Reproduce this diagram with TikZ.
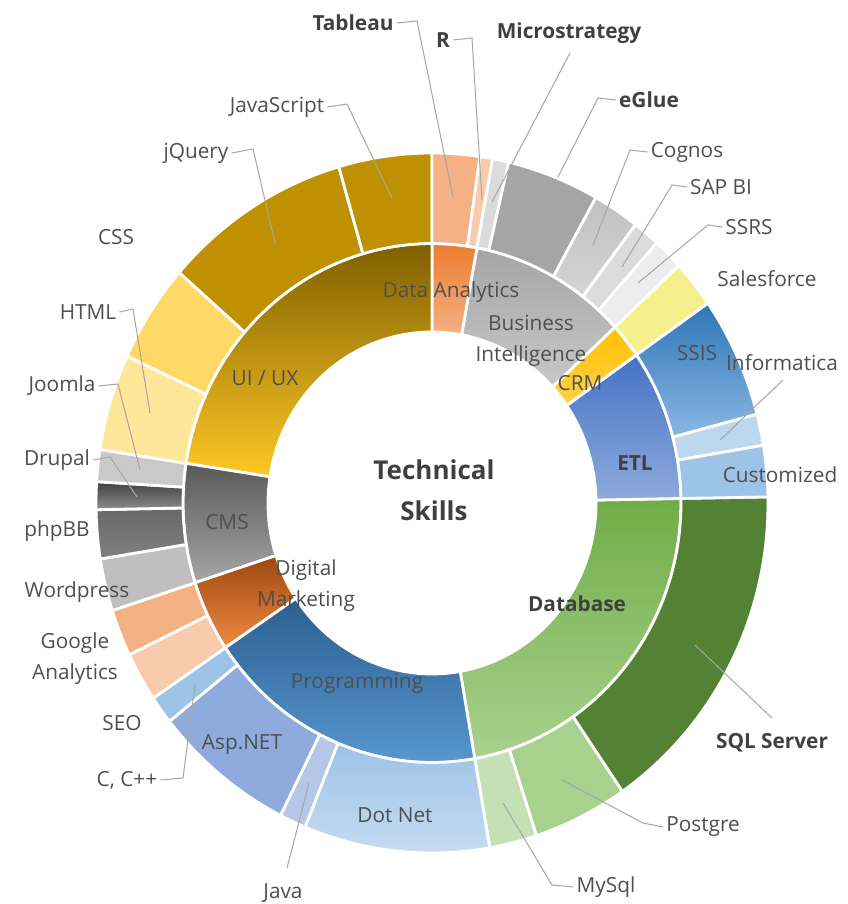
\documentclass[tikz,border=0pt]{standalone}
\usepackage{fontspec}
\setmainfont{Open Sans}
\definecolor{labgray}{HTML}{4F4F4F}
\definecolor{boldgray}{HTML}{404040}
\definecolor{leadgray}{HTML}{A6A6A6}
\newcommand{\RingA}[3]{\path[seg,#3] (#1:164pt and 171pt) arc[start angle=#1, end angle=#2, x radius=164pt, y radius=171pt] -- (#2:249pt and 259.5pt) arc[start angle=#2, end angle=#1, x radius=249pt, y radius=259.5pt] -- cycle;}
\newcommand{\RingB}[3]{\path[seg,#3] (#1:249pt and 259.5pt) arc[start angle=#1, end angle=#2, x radius=249pt, y radius=259.5pt] -- (#2:336pt and 350pt) arc[start angle=#2, end angle=#1, x radius=336pt, y radius=350pt] -- cycle;}
\begin{document}
\begin{tikzpicture}[x=1pt,y=1pt,
  lab/.style={font=\fontsize{20.8}{31}\selectfont, text=labgray, inner sep=3pt, align=center},
  blab/.style={lab, font=\fontsize{20.8}{31}\selectfont\bfseries, text=boldgray},
  leader/.style={draw=leadgray, line width=1pt},
  seg/.style={draw=white, line width=2.8pt, line join=round}]
\useasboundingbox (0,0) rectangle (847,-904);
\fill[white] (0,0) rectangle (847,-904);
\begin{scope}[shift={(432,-503)}]
% inner ring
\RingA{279.9}{361}{top color={rgb,255:red,112;green,173;blue,71}, bottom color={rgb,255:red,169;green,209;blue,142}}
\RingA{1}{34.8}{top color={rgb,255:red,68;green,114;blue,196}, bottom color={rgb,255:red,143;green,170;blue,220}}
\RingA{34.8}{42.7}{top color={rgb,255:red,255;green,192;blue,0}, bottom color={rgb,255:red,255;green,210;blue,77}}
\RingA{42.7}{79.6}{top color={rgb,255:red,165;green,165;blue,165}, bottom color={rgb,255:red,200;green,200;blue,200}}
\RingA{79.6}{90}{top color={rgb,255:red,237;green,125;blue,49}, bottom color={rgb,255:red,244;green,177;blue,131}}
\RingA{90}{171.2}{top color={rgb,255:red,127;green,96;blue,0}, bottom color={rgb,255:red,255;green,200;blue,37}}
\RingA{171.2}{197.9}{top color={rgb,255:red,89;green,89;blue,89}, bottom color={rgb,255:red,166;green,166;blue,166}}
\RingA{197.9}{213.9}{top color={rgb,255:red,158;green,72;blue,14}, bottom color={rgb,255:red,239;green,138;blue,69}}
\RingA{213.9}{279.9}{top color={rgb,255:red,44;green,95;blue,143}, bottom color={rgb,255:red,91;green,155;blue,213}}
% outer ring
\RingB{304.5}{361}{fill={rgb,255:red,84;green,130;blue,53}}
\RingB{288.1}{304.5}{fill={rgb,255:red,169;green,209;blue,142}}
\RingB{279.9}{288.1}{fill={rgb,255:red,197;green,224;blue,180}}
\RingB{247.8}{279.9}{top color={rgb,255:red,157;green,195;blue,230}, bottom color={rgb,255:red,200;green,221;blue,242}}
\RingB{243.2}{247.8}{fill={rgb,255:red,180;green,199;blue,231}}
\RingB{218.6}{243.2}{fill={rgb,255:red,143;green,170;blue,220}}
\RingB{213.9}{218.6}{fill={rgb,255:red,157;green,195;blue,230}}
\RingB{205.7}{213.9}{fill={rgb,255:red,248;green,203;blue,173}}
\RingB{197.9}{205.7}{fill={rgb,255:red,244;green,177;blue,131}}
\RingB{189.2}{197.9}{fill={rgb,255:red,191;green,191;blue,191}}
\RingB{181.1}{189.2}{top color={rgb,255:red,105;green,105;blue,105}, bottom color={rgb,255:red,128;green,128;blue,128}}
\RingB{176.5}{181.1}{top color={rgb,255:red,64;green,64;blue,64}, bottom color={rgb,255:red,140;green,140;blue,140}}
\RingB{171.2}{176.5}{fill={rgb,255:red,201;green,201;blue,201}}
\RingB{155.2}{171.2}{fill={rgb,255:red,255;green,230;blue,153}}
\RingB{138.8}{155.2}{fill={rgb,255:red,255;green,217;blue,102}}
\RingB{106.1}{138.8}{fill={rgb,255:red,191;green,144;blue,0}}
\RingB{90}{106.1}{fill={rgb,255:red,191;green,144;blue,0}}
\RingB{81.8}{90}{fill={rgb,255:red,244;green,177;blue,131}}
\RingB{79.6}{81.8}{fill={rgb,255:red,248;green,203;blue,173}}
\RingB{76.8}{79.6}{fill={rgb,255:red,219;green,219;blue,219}}
\RingB{60.8}{76.8}{fill={rgb,255:red,165;green,165;blue,165}}
\RingB{52.7}{60.8}{top color={rgb,255:red,192;green,192;blue,192}, bottom color={rgb,255:red,213;green,213;blue,213}}
\RingB{48.0}{52.7}{fill={rgb,255:red,219;green,219;blue,219}}
\RingB{42.7}{48.0}{fill={rgb,255:red,237;green,237;blue,237}}
\RingB{34.8}{42.7}{fill={rgb,255:red,246;green,240;blue,140}}
\RingB{14.7}{34.8}{top color={rgb,255:red,46;green,117;blue,182}, bottom color={rgb,255:red,138;green,184;blue,227}}
\RingB{9.5}{14.7}{fill={rgb,255:red,189;green,215;blue,238}}
\RingB{1}{9.5}{fill={rgb,255:red,157;green,195;blue,230}}
\end{scope}
% centre
\node[blab, font=\fontsize{26}{41}\selectfont\bfseries] (centre) at (434,-490) {Technical\\Skills};
% inner labels
\node[blab] (etl) at (635,-463) {ETL};
\node[lab] (crm) at (580,-383) {CRM};
\node[lab] (bi) at (531,-341) {Business\\Intelligence};
\node[lab] (da) at (451,-292) {Data Analytics};
\node[lab] (uiux) at (265,-378) {UI / UX};
\node[lab] (cms) at (227,-522) {CMS};
\node[lab] (dm) at (306,-586) {Digital\\Marketing};
\node[lab] (prog) at (357,-683) {Programming};
\node[blab] (db) at (577,-604) {Database};
% outer labels without leaders
\node[lab] (ssis) at (697,-353) {SSIS};
\node[lab] (custom) at (780,-475) {Customized};
\node[lab] (sales) at (767,-279) {Salesforce};
\node[lab] (asp) at (242,-745) {Asp.NET};
\node[lab] (dotnet) at (395,-815) {Dot Net};
\node[lab] (seo) at (122,-723) {SEO};
\node[lab] (ga) at (75,-659) {Google\\Analytics};
\node[lab] (wp) at (77,-592) {Wordpress};
\node[lab] (phpbb) at (57,-531) {phpBB};
\node[lab] (css) at (116,-237) {CSS};
% outer labels with leaders
\node[blab] (tableau) at (353,-23) {Tableau};
\coordinate (tableauK) at (417,-21); \coordinate (tableauE) at (453,-197);
\draw[leader] (tableau.east) -- (tableauK) -- (tableauE);
\node[blab] (rlab) at (443,-40) {R};
\coordinate (rK) at (472,-38); \coordinate (rE) at (482,-200);
\draw[leader] (rlab.east) -- (rK) -- (rE);
\node[blab] (micro) at (569,-33) {Microstrategy};
\coordinate (microS) at (570,-53); \coordinate (microE) at (492,-202);
\draw[leader] (microS) -- (microE);
\node[blab] (eglue) at (649,-100) {eGlue};
\coordinate (eglueK) at (598,-98); \coordinate (eglueE) at (558,-177);
\draw[leader] (eglue.west) -- (eglueK) -- (eglueE);
\node[lab] (cognos) at (687,-152) {Cognos};
\coordinate (cognosK) at (630,-150); \coordinate (cognosE) at (593,-245);
\draw[leader] (cognos.west) -- (cognosK) -- (cognosE);
\node[lab] (sapbi) at (721,-187) {SAP BI};
\coordinate (sapK) at (672,-185); \coordinate (sapE) at (622,-267);
\draw[leader] (sapbi.west) -- (sapK) -- (sapE);
\node[lab] (ssrs) at (749,-227) {SSRS};
\coordinate (ssrsK) at (708,-225); \coordinate (ssrsE) at (638,-283);
\draw[leader] (ssrs.west) -- (ssrsK) -- (ssrsE);
\node[lab] (infa) at (782,-363) {Informatica};
\coordinate (infaS) at (783,-380); \coordinate (infaE) at (720,-440);
\draw[leader] (infaS) -- (infaE);
\node[lab] (java) at (283,-893) {Java};
\coordinate (javaS) at (287,-868); \coordinate (javaE) at (309,-783);
\draw[leader] (javaS) -- (javaE);
\node[lab] (cpp) at (127,-780) {C, C++};
\coordinate (cppK) at (183,-778); \coordinate (cppE) at (195,-685);
\draw[leader] (cpp.east) -- (cppK) -- (cppE);
\node[lab] (drupal) at (57,-460) {Drupal};
\coordinate (drupalK) at (110,-457); \coordinate (drupalE) at (137,-497);
\draw[leader] (drupal.east) -- (drupalK) -- (drupalE);
\node[lab] (joomla) at (62,-386) {Joomla};
\coordinate (joomlaK) at (118,-384); \coordinate (joomlaE) at (140,-470);
\draw[leader] (joomla.east) -- (joomlaK) -- (joomlaE);
\node[lab] (html) at (88,-312) {HTML};
\coordinate (htmlK) at (133,-309); \coordinate (htmlE) at (150,-413);
\draw[leader] (html.east) -- (htmlK) -- (htmlE);
\node[lab] (jquery) at (196,-153) {jQuery};
\coordinate (jqK) at (253,-149); \coordinate (jqE) at (275,-243);
\draw[leader] (jquery.east) -- (jqK) -- (jqE);
\node[lab] (js) at (277,-107) {JavaScript};
\coordinate (jsK) at (347,-104); \coordinate (jsE) at (392,-198);
\draw[leader] (js.east) -- (jsK) -- (jsE);
\node[blab] (sql) at (772,-743) {SQL Server};
\coordinate (sqlS) at (772,-718); \coordinate (sqlE) at (695,-645);
\draw[leader] (sqlS) -- (sqlE);
\node[lab] (pg) at (703,-827) {Postgre};
\coordinate (pgK) at (643,-823); \coordinate (pgE) at (562,-780);
\draw[leader] (pg.west) -- (pgK) -- (pgE);
\node[lab] (mysql) at (606,-887) {MySql};
\coordinate (myK) at (552,-885); \coordinate (myE) at (503,-803);
\draw[leader] (mysql.west) -- (myK) -- (myE);
\end{tikzpicture}
\end{document}
